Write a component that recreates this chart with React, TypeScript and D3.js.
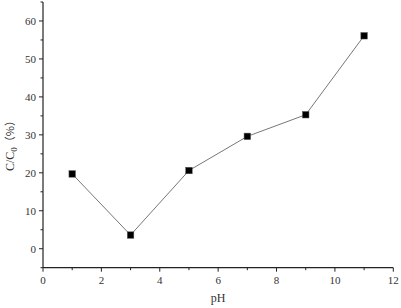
import React from "react";
import * as d3 from "d3";

const phValues = [1, 3, 5, 7, 9, 11];
const ratioValues = [19.7, 3.6, 20.6, 29.6, 35.3, 56.1];
const xTicks = [0, 2, 4, 6, 8, 10, 12];
const xMinorTicks = [1, 3, 5, 7, 9, 11];
const yTicks = [0, 10, 20, 30, 40, 50, 60];
const yMinorTicks = [-5, 5, 15, 25, 35, 45, 55, 65];

export default function App() {
  const W = 401, H = 308;
  const left = 43, right = 393.3, top = 2, bottom = 267.7;
  const x = d3.scaleLinear().domain([0, 12]).range([left, right]);
  const y = d3.scaleLinear().domain([-5, 65]).range([bottom, top]);
  const line = d3.line<number>().x((_, i) => x(phValues[i])).y((d) => y(d));
  const font = "'Liberation Serif', 'DejaVu Serif', serif";
  const ms = 6.5;
  return (
    <svg width={W} height={H} style={{ position: "absolute", left: 0, top: 0, background: "#fff" }} fontFamily={font}>
      <rect width={W} height={H} fill="#fff" />
      <path d={line(ratioValues) || ""} fill="none" stroke="#777" strokeWidth={1} />
      {ratioValues.map((v, i) => (
        <rect key={i} x={x(phValues[i]) - ms / 2} y={y(v) - ms / 2} width={ms} height={ms} fill="#000" stroke="#555" strokeWidth={0.5} />
      ))}
      <line x1={left} x2={left} y1={top} y2={bottom} stroke="#222" strokeWidth={1.2} />
      <line x1={left} x2={right} y1={bottom} y2={bottom} stroke="#222" strokeWidth={1.2} />
      {xTicks.map((t) => (
        <g key={"x" + t}>
          <line x1={x(t)} x2={x(t)} y1={bottom} y2={bottom + 4} stroke="#222" strokeWidth={1} />
          <text x={x(t)} y={bottom + 16} textAnchor="middle" fontSize={11} fill="#333">{t}</text>
        </g>
      ))}
      {xMinorTicks.map((t) => (
        <line key={"xm" + t} x1={x(t)} x2={x(t)} y1={bottom} y2={bottom + 2.5} stroke="#222" strokeWidth={1} />
      ))}
      {yTicks.map((t) => (
        <g key={"y" + t}>
          <line x1={left - 4} x2={left} y1={y(t)} y2={y(t)} stroke="#222" strokeWidth={1} />
          <text x={left - 7} y={y(t) + 3.8} textAnchor="end" fontSize={11} fill="#333">{t}</text>
        </g>
      ))}
      {yMinorTicks.map((t) => (
        <line key={"ym" + t} x1={left - 2.5} x2={left} y1={y(t)} y2={y(t)} stroke="#222" strokeWidth={1} />
      ))}
      <text x={(left + right) / 2} y={302} textAnchor="middle" fontSize={12} fill="#333">pH</text>
      <text transform={`translate(14, ${143}) rotate(-90)`} textAnchor="middle" fontSize={12} fill="#333">
        C/C<tspan fontSize={9} dy={3}>0</tspan><tspan dy={-3} fontFamily="'Noto Sans CJK SC'" fontSize={11}>（%）</tspan>
      </text>
    </svg>
  );
}
